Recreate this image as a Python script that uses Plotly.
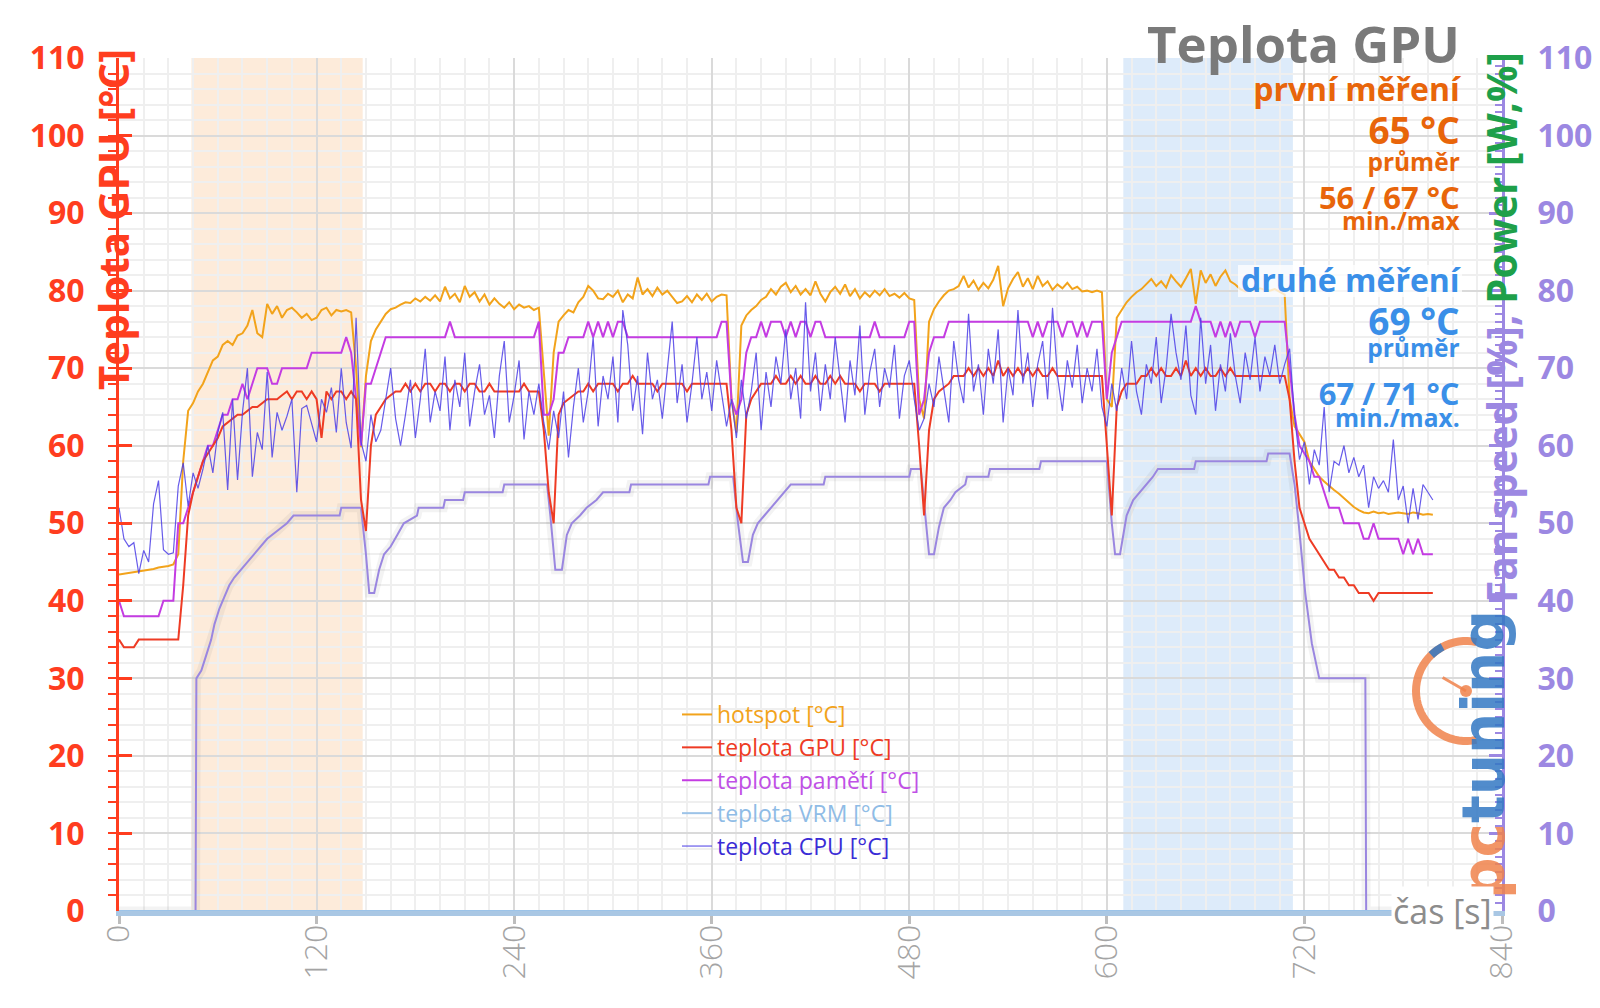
import math
import plotly.graph_objects as go

# ---------------- data ----------------
t = list(range(0, 799, 3))  # time grid [s]

hotspot = [
    43.4, 43.5, 43.6, 43.7, 43.8, 43.9, 44.0, 44.1, 44.3, 44.4,
    44.5, 44.7, 46.0, 58.0, 64.5, 65.5, 67.0, 68.0, 69.5, 71.0,
    71.5, 73.0, 73.5, 73.0, 74.2, 74.5, 75.5, 77.5, 74.5, 74.0,
    78.3, 77.0, 78.0, 76.5, 77.5, 77.8, 77.2, 76.5, 77.0, 76.2,
    76.5, 77.5, 77.8, 76.8, 77.5, 77.3, 77.5, 77.2, 70.0, 59.8,
    69.0, 73.5, 75.0, 76.0, 77.0, 77.6, 77.8, 78.2, 78.5, 78.4,
    79.0, 78.6, 79.2, 78.7, 79.4, 78.6, 80.5, 79.0, 79.6, 78.5,
    80.6, 79.2, 79.8, 78.6, 79.5, 78.2, 79.0, 78.3, 77.8, 78.5,
    77.6, 78.2, 77.8, 78.0, 77.5, 77.8, 70.0, 61.3, 72.0, 76.0,
    76.8, 77.5, 77.2, 78.5, 79.2, 80.6, 80.0, 79.0, 78.9, 79.6,
    79.2, 80.0, 78.5, 79.5, 79.0, 81.7, 79.5, 80.2, 79.3, 80.4,
    79.5, 80.0, 79.2, 78.4, 78.6, 79.3, 78.5, 79.5, 78.8, 79.6,
    78.6, 79.2, 79.5, 79.4, 66.0, 61.7, 75.5, 76.8, 77.5, 78.0,
    78.8, 79.2, 80.2, 79.5, 80.5, 81.0, 79.8, 80.6, 79.5, 80.2,
    79.4, 81.2, 79.6, 78.6, 79.8, 80.5, 79.6, 80.8, 79.3, 80.2,
    79.0, 79.8, 79.2, 80.0, 79.4, 80.2, 79.3, 79.6, 79.1, 79.7,
    79.0, 78.8, 66.0, 63.5, 76.0, 77.6, 78.6, 79.4, 80.0, 80.2,
    80.6, 81.9, 80.4, 81.3, 80.1, 81.0, 80.3, 81.4, 83.2, 78.0,
    80.3, 81.5, 82.4, 80.5, 81.6, 80.2, 81.9, 80.6, 81.2, 80.1,
    80.8, 80.3, 81.0, 80.2, 80.5, 79.9, 80.0, 79.8, 80.0, 79.8,
    66.0, 65.0, 76.5, 77.5, 78.5, 79.2, 79.8, 80.2, 80.8, 81.5,
    80.6, 81.2, 80.4, 82.0, 81.2, 80.5, 81.6, 82.8, 78.3, 82.6,
    81.0, 82.1, 80.6, 81.8, 82.6, 81.2, 80.8, 80.2, 79.9, 80.2,
    80.0, 80.3, 80.1, 80.0, 80.2, 79.9, 79.5, 66.0, 62.5, 61.5,
    60.5, 58.0, 57.0, 56.0, 55.4, 54.8, 54.3, 53.8, 53.2, 52.6,
    52.1, 51.7, 51.4, 51.3, 51.5, 51.3, 51.4, 51.2, 51.3, 51.4,
    51.3, 51.2, 51.4, 51.3, 51.1, 51.2, 51.1,
]

gpu = [
    35, 34, 34, 34, 35, 35, 35, 35, 35, 35,
    35, 35, 35, 42, 51, 54, 56, 58, 59, 60,
    61, 62.5, 63, 63.5, 64, 64, 64.5, 65, 65, 65.5,
    66, 66, 66, 66.5, 67, 66, 67, 67, 66, 67,
    66, 61, 67, 66, 67, 67, 66, 67, 66, 53,
    49, 60, 64, 65, 66, 66.5, 67, 67, 68, 67,
    68, 67, 68, 68, 67, 68, 68, 67, 68, 68,
    67, 68, 68, 67, 67, 68, 67, 67, 67, 67,
    67, 67, 68, 67, 67, 67, 62, 54, 50, 64,
    65.5, 66, 66.5, 67, 67, 68, 67, 68, 68, 68,
    68, 67, 68, 68, 69, 68, 68, 68, 68, 67,
    68, 68, 68, 68, 68, 67, 68, 68, 68, 68,
    68, 68, 68, 68, 62, 52, 50, 64, 66, 67,
    68, 68, 68, 69, 68, 68, 69, 68, 69, 68,
    68, 69, 68, 68, 69, 68, 69, 68, 68, 68,
    67, 68, 68, 68, 67, 68, 68, 68, 68, 68,
    68, 68, 60, 51, 62, 66, 67, 67.5, 68, 69,
    69, 69, 70, 69, 70, 69, 70, 69, 71, 69,
    70, 69, 70, 69, 70, 69, 70, 69, 69, 70,
    69, 69, 69, 69, 69, 69, 69, 69, 69, 69,
    60, 51, 65, 67, 68, 68, 68, 69, 69, 70,
    69, 70, 69, 69, 70, 69, 71, 69, 70, 69,
    70, 69, 69, 70, 69, 70, 69, 69, 69, 69,
    69, 69, 69, 69, 69, 69, 69, 66, 58, 52,
    50, 48, 47, 46, 45, 44, 44, 43, 43, 42,
    42, 41, 41, 41, 40, 41, 41, 41, 41, 41,
    41, 41, 41, 41, 41, 41, 41,
]

memory = [
    40, 38, 38, 38, 38, 38, 38, 38, 38, 40,
    40, 40, 50, 50, 52, 54, 56, 58, 60, 60,
    62, 64, 64, 66, 66, 68, 66, 68, 70, 70,
    70, 68, 68, 70, 70, 70, 70, 70, 70, 72,
    72, 72, 72, 72, 72, 72, 74, 72, 66, 60,
    68, 68, 70, 72, 74, 74, 74, 74, 74, 74,
    74, 74, 74, 74, 74, 74, 74, 76, 74, 74,
    74, 74, 74, 74, 74, 74, 74, 74, 74, 74,
    74, 74, 74, 74, 74, 76, 64, 64, 66, 72,
    72, 74, 74, 74, 74, 76, 74, 76, 74, 76,
    74, 76, 76, 74, 74, 74, 74, 74, 74, 74,
    74, 74, 74, 74, 74, 74, 74, 74, 74, 74,
    74, 74, 76, 76, 66, 64, 66, 72, 74, 74,
    76, 74, 76, 76, 76, 74, 76, 74, 76, 76,
    74, 76, 76, 74, 74, 74, 74, 74, 74, 74,
    74, 74, 74, 76, 74, 74, 74, 74, 74, 74,
    76, 76, 64, 66, 72, 74, 74, 74, 76, 76,
    76, 76, 76, 76, 76, 76, 76, 76, 76, 76,
    76, 76, 76, 76, 76, 74, 76, 74, 76, 76,
    76, 74, 76, 76, 74, 76, 74, 76, 76, 76,
    66, 72, 74, 76, 76, 76, 76, 76, 76, 76,
    76, 76, 76, 76, 76, 76, 76, 76, 78, 76,
    76, 76, 74, 76, 74, 76, 74, 76, 76, 76,
    74, 76, 76, 76, 76, 76, 76, 70, 64, 60,
    59, 58, 56, 56, 54, 52, 52, 52, 50, 50,
    50, 50, 48, 48, 50, 48, 48, 48, 48, 48,
    46, 48, 46, 48, 46, 46, 46,
]

cpu = [
    52.0, 48.0, 47.0, 47.5, 43.5, 46.5, 45.0, 52.5, 55.5, 46.6,
    46.0, 46.2, 54.8, 57.8, 52.2, 56.5, 54.5, 57.0, 60.0, 56.5,
    61.7, 64.3, 54.3, 66.0, 55.6, 64.3, 70.0, 56.0, 61.7, 59.5,
    69.5, 58.5, 64.3, 62.0, 63.8, 66.0, 54.0, 64.8, 65.2, 62.8,
    60.5, 66.0, 64.3, 67.5, 61.7, 70.0, 63.0, 59.7, 76.5, 60.5,
    58.0, 64.0, 60.5, 62.0, 66.0, 70.0, 63.5, 60.0, 64.0, 68.5,
    61.0, 66.0, 72.5, 63.0, 67.0, 64.5, 71.5, 62.0, 68.5, 65.0,
    72.0, 62.5, 67.0, 70.5, 64.0, 66.5, 61.0, 69.0, 73.5, 63.0,
    66.5, 71.0, 60.8, 67.0, 64.0, 68.0, 63.0, 59.5, 64.5, 61.0,
    67.0, 58.5, 65.0, 70.0, 63.0, 67.0, 74.0, 62.5, 69.0, 66.0,
    71.5, 63.0, 77.5, 73.0, 64.5, 69.0, 61.5, 72.0, 66.0, 68.5,
    63.5, 70.0, 76.0, 65.5, 70.5, 63.0, 68.0, 74.0, 66.0, 69.5,
    64.5, 71.0, 67.0, 62.5, 66.0, 61.0, 68.5, 63.5, 67.0, 72.0,
    62.0, 69.5, 65.0, 71.5, 68.0, 75.0, 66.0, 70.0, 63.5, 78.5,
    67.0, 72.0, 64.5, 70.5, 66.0, 74.0, 68.5, 63.0, 71.0, 66.5,
    75.5, 64.0, 69.5, 72.5, 65.0, 70.0, 67.5, 73.0, 63.5, 69.0,
    71.0, 66.0, 62.0, 63.5, 68.0, 65.0, 71.5, 67.0, 63.0, 73.5,
    68.5, 65.5, 77.0, 67.0, 70.5, 64.0, 72.5, 68.0, 75.0, 63.0,
    70.0, 66.5, 77.5, 68.0, 72.0, 65.0, 70.5, 73.5, 66.0, 77.8,
    69.0, 64.5, 71.0, 67.5, 73.0, 65.5, 70.0, 67.0, 72.5, 65.0,
    62.5, 68.0, 64.5, 70.0, 66.0, 73.5, 67.0, 64.0, 70.5, 68.0,
    74.0, 65.5, 70.0, 77.0, 72.0, 68.5, 75.5, 66.5, 64.0, 76.5,
    68.0, 73.0, 64.5, 70.5, 67.0, 74.5, 69.0, 65.5, 72.0, 68.5,
    74.0, 67.0, 71.5, 69.0, 73.0, 68.0, 70.5, 72.5, 63.8, 58.2,
    60.5, 55.0, 59.5, 57.5, 65.0, 54.0, 58.0, 57.5, 60.0, 56.5,
    58.5, 56.0, 57.5, 52.0, 56.0, 54.5, 55.5, 54.0, 60.8, 53.0,
    54.8, 50.0, 54.5, 50.5, 55.0, 54.0, 53.0,
]

fan_t = [0, 46.5, 47, 50, 53, 56, 58, 61, 64, 67, 70, 74, 78, 82, 86, 90, 96, 102, 106,
         134, 135, 147, 150, 152, 155, 158, 161, 165, 169, 173, 181, 182, 197, 198, 209, 210,
         233, 234, 260, 262, 265, 269, 272, 275, 280, 284, 290, 294, 310, 311, 358, 359,
         373, 376, 379, 382, 385, 388, 392, 396, 400, 404, 408, 428, 429, 480, 481,
         487, 490, 492, 495, 498, 501, 505, 508, 514, 515, 528, 529, 559, 560,
         600, 603, 605, 608, 612, 616, 620, 624, 628, 631, 653, 654, 697, 698,
         711, 714, 716.5, 720.5, 724.5, 729, 757, 757.5, 798]
fan_v = [0, 0, 30, 31, 33, 35, 37, 39, 40.5, 42, 43, 44, 45, 46, 47, 48, 49, 50, 51,
         51, 52, 52, 46, 41, 41, 44, 46, 47, 48.5, 50, 51, 52, 52, 53, 53, 54,
         54, 55, 55, 51, 44, 44, 48.5, 50, 51, 52, 53, 54, 54, 55, 55, 56,
         56, 50, 45, 45, 48.5, 50, 51, 52, 53, 54, 55, 55, 56, 56, 57,
         57, 50, 46, 46, 49.5, 52, 53, 54, 55, 56, 56, 57, 57, 58,
         58, 50, 46, 46, 51, 53, 54, 55, 56, 57, 57, 58, 58, 59,
         59, 55, 50, 41, 34.5, 30, 30, 0, 0]

vrm_t = [0, 798]
vrm_v = [0, 0]

x_ticks = [0, 120, 240, 360, 480, 600, 720, 840]
y_ticks = [0, 10, 20, 30, 40, 50, 60, 70, 80, 90, 100, 110]

first_band = [44, 148]
second_band = [610, 713]

# ---------------- geometry ----------------
OFF = 8  # page body margin
W, H = 1600 - OFF, 1008 - OFF
PL, PR, PT, PB = 119, 1502, 58, 911  # plot area in page pixels
PW, PH = PR - PL, PB - PT


def px2x(px):
    return (px - PL) / PW


def px2y(py):
    return (PB - py) / PH


RED = "#FF3D1F"
PURPLE = "#9C88E2"
C_HOT = "#F2A31B"
C_GPU = "#EE3B24"
C_MEM = "#C43CE2"
C_VRM = "#9CC3E8"
FONT = "Open Sans"

fig = go.Figure()


def lab(text, color):
    return f'<span style="color:{color}">{text}</span>'


fig.add_trace(go.Scatter(x=fan_t, y=fan_v, mode="lines", showlegend=False, hoverinfo="skip",
                         line=dict(color="rgba(90,90,90,0.07)", width=9)))
fig.add_trace(go.Scatter(x=fan_t, y=fan_v, mode="lines", showlegend=False, name="Fan speed [%]",
                         line=dict(color="#9A86E0", width=2)))
fig.add_trace(go.Scatter(x=t[:len(hotspot)], y=hotspot, mode="lines", name=lab("hotspot [°C]", C_HOT),
                         line=dict(color=C_HOT, width=2), legendrank=1))
fig.add_trace(go.Scatter(x=t[:len(memory)], y=memory, mode="lines", name=lab("teplota pamětí [°C]", "#C050E6"),
                         line=dict(color=C_MEM, width=2), legendrank=3))
fig.add_trace(go.Scatter(x=t[:len(gpu)], y=gpu, mode="lines", name=lab("teplota GPU [°C]", C_GPU),
                         line=dict(color=C_GPU, width=2), legendrank=2))
fig.add_trace(go.Scatter(x=t[:len(cpu)], y=cpu, mode="lines", name=lab("teplota CPU [°C]", "#3A2CD6"),
                         line=dict(color="rgba(76,62,230,0.85)", width=1.2), legendrank=5))
fig.add_trace(go.Scatter(x=vrm_t, y=vrm_v, mode="lines", name=lab("teplota VRM [°C]", "#8FBCE6"),
                         line=dict(color=C_VRM, width=2), cliponaxis=False, legendrank=4))
fig.add_trace(go.Scatter(x=[None], y=[None], yaxis="y2", showlegend=False, hoverinfo="skip"))

shapes = [
    dict(type="rect", xref="x", yref="paper", x0=first_band[0], x1=first_band[1], y0=0, y1=1,
         fillcolor="#FDEBDA", line=dict(width=0), layer="below"),
    dict(type="rect", xref="x", yref="paper", x0=second_band[0], x1=second_band[1], y0=0, y1=1,
         fillcolor="#DDEBFA", line=dict(width=0), layer="below"),
    # soft white halo behind "druhé měření"
    dict(type="rect", xref="paper", yref="paper", x0=px2x(1238), x1=px2x(1462), y0=px2y(297), y1=px2y(265),
         fillcolor="rgba(255,255,255,0.75)", line=dict(width=0), layer="above"),
]

# logo gauge (decoration)
cx, cy, r = 1466, 691, 50


def arc_path(a0, a1, n=40):
    pts = []
    for k in range(n + 1):
        a = math.radians(a0 + (a1 - a0) * k / n)
        pts.append((px2x(cx + r * math.cos(a)), px2y(cy - r * math.sin(a))))
    return "M " + " L ".join(f"{x:.5f},{y:.5f}" for x, y in pts)


LOGO_O = "rgba(240,130,75,0.85)"
LOGO_B = "rgba(50,120,195,0.85)"
shapes.append(dict(type="path", xref="paper", yref="paper", path=arc_path(78, 282),
                   line=dict(color=LOGO_O, width=8)))
shapes.append(dict(type="path", xref="paper", yref="paper", path=arc_path(118, 134, 8),
                   line=dict(color=LOGO_B, width=8)))
nx, ny = cx + 27 * math.cos(math.radians(150)), cy - 27 * math.sin(math.radians(150))
shapes.append(dict(type="line", xref="paper", yref="paper", x0=px2x(cx), y0=px2y(cy), x1=px2x(nx), y1=px2y(ny),
                   line=dict(color=LOGO_O, width=3)))
shapes.append(dict(type="circle", xref="paper", yref="paper", x0=px2x(cx - 6), x1=px2x(cx + 6),
                   y0=px2y(cy + 6), y1=px2y(cy - 6), fillcolor=LOGO_O, line=dict(width=0)))

ORANGE_T = "#E8650A"
BLUE_T = "#3A8FE8"
GREY_T = "#7A7A7A"
RIGHT_EDGE = 1464
UNIT = 5.4            # px per spacing unit
BASE = UNIT / 1.3     # base font so one line break = UNIT px


def stack(parts):
    """parts: list of (gap_units_before, text, size, color)"""
    out = []
    for gap, text, size, color in parts:
        out.append("<br>" * gap + f'<span style="font-size:{size}px;color:{color}">{text}</span>')
    return "".join(out)


def stack_ann(parts, last_baseline, last_size, color):
    return dict(text=stack(parts), x=px2x(RIGHT_EDGE), y=px2y(last_baseline + 0.293 * last_size + 1),
                xref="paper", yref="paper", xanchor="right", yanchor="bottom", align="right",
                showarrow=False, font=dict(family=FONT, size=BASE, color=color, weight="bold"))


orange_parts = [
    (0, "Teplota GPU", 51, GREY_T),
    (7, "první měření", 32, ORANGE_T),
    (8, "65 °C", 37, ORANGE_T),
    (5, "průměr", 24.5, ORANGE_T),
    (7, "56 / 67 °C", 31, ORANGE_T),
    (4, "min./max", 24.5, ORANGE_T),
]
blue_parts = [
    (0, "druhé měření", 32, BLUE_T),
    (8, "69 °C", 37, BLUE_T),
    (4, "průměr", 24.5, BLUE_T),
    (9, "67 / 71 °C", 31, BLUE_T),
    (4, "min./max.", 24.5, BLUE_T),
]

annotations = [
    stack_ann(orange_parts, 230.5, 24.5, ORANGE_T),
    stack_ann(blue_parts, 427.5, 24.5, BLUE_T),
    dict(text="Teplota GPU [°C]", textangle=-90, x=px2x(112), y=px2y(220), xref="paper", yref="paper",
         xanchor="center", yanchor="middle", showarrow=False,
         font=dict(family=FONT, size=42, color=RED, weight="bold")),
    dict(text=lab("Fan speed [%], ", PURPLE) + lab("Power [W,%]", "#1EA04A"), textangle=-90,
         x=px2x(1501), y=px2y(328), xref="paper", yref="paper", xanchor="center", yanchor="middle",
         showarrow=False, font=dict(family=FONT, size=40.5, color=PURPLE, weight="bold")),
    dict(text=lab("pc", LOGO_O) + lab("tuning", LOGO_B), textangle=-90,
         x=px2x(1484), y=px2y(755), xref="paper", yref="paper", xanchor="center", yanchor="middle",
         showarrow=False, font=dict(family="DejaVu Sans", size=58, weight="bold")),
    dict(text="čas [s]", x=px2x(1494), y=0, xref="paper", yref="paper", xanchor="right", yanchor="middle",
         showarrow=False, bgcolor="white", borderpad=1,
         font=dict(family=FONT, size=34, color="#8C8C8C")),
]

fig.update_layout(
    width=W, height=H,
    margin=dict(l=PL - OFF, r=W - (PR - OFF), t=PT - OFF, b=H - (PB - OFF)),
    paper_bgcolor="white", plot_bgcolor="white",
    shapes=shapes, annotations=annotations,
    showlegend=True,
    legend=dict(x=px2x(677), y=px2y(693), xanchor="left", yanchor="top", bgcolor="rgba(0,0,0,0)",
                font=dict(family=FONT, size=23), itemwidth=30),
    xaxis=dict(range=[0, 840], tickvals=x_ticks, tickangle=-90, automargin=False,
               tickfont=dict(family=FONT, size=32, color="#A4A4A4", weight=300),
               ticks="outside", ticklen=8, tickwidth=3, tickcolor="#BDBDBD",
               showgrid=True, gridcolor="#DADADA", gridwidth=2,
               minor=dict(dtick=15, showgrid=True, gridcolor="#EFEFEF", gridwidth=1.5, ticks=""),
               showline=True, linecolor="#A9C7E4", linewidth=5, layer="below traces",
               zeroline=False, ticklabelstandoff=-12),
    yaxis=dict(range=[0, 110], tickvals=y_ticks, automargin=False,
               tickfont=dict(family=FONT, size=32, color=RED, weight="bold"),
               ticks="inside", ticklen=13, tickwidth=3, tickcolor=RED,
               showline=True, linecolor=RED, linewidth=3,
               minor=dict(dtick=2, ticks="outside", ticklen=8, tickwidth=2, tickcolor=RED,
                          showgrid=True, gridcolor="#EFEFEF", gridwidth=1.5),
               showgrid=True, gridcolor="#DADADA", gridwidth=2, zeroline=False,
               ticklabelstandoff=25),
    yaxis2=dict(range=[0, 110], tickvals=y_ticks, overlaying="y", side="right", automargin=False,
                tickfont=dict(family=FONT, size=32, color=PURPLE, weight="bold"),
                ticks="inside", ticklen=13, tickwidth=3, tickcolor=PURPLE,
                showline=True, linecolor=PURPLE, linewidth=3,
                minor=dict(dtick=1, ticks="inside", ticklen=7, tickwidth=2, tickcolor=PURPLE, showgrid=False),
                showgrid=False, zeroline=False, ticklabelstandoff=26),
)

fig.write_html("out.html")
